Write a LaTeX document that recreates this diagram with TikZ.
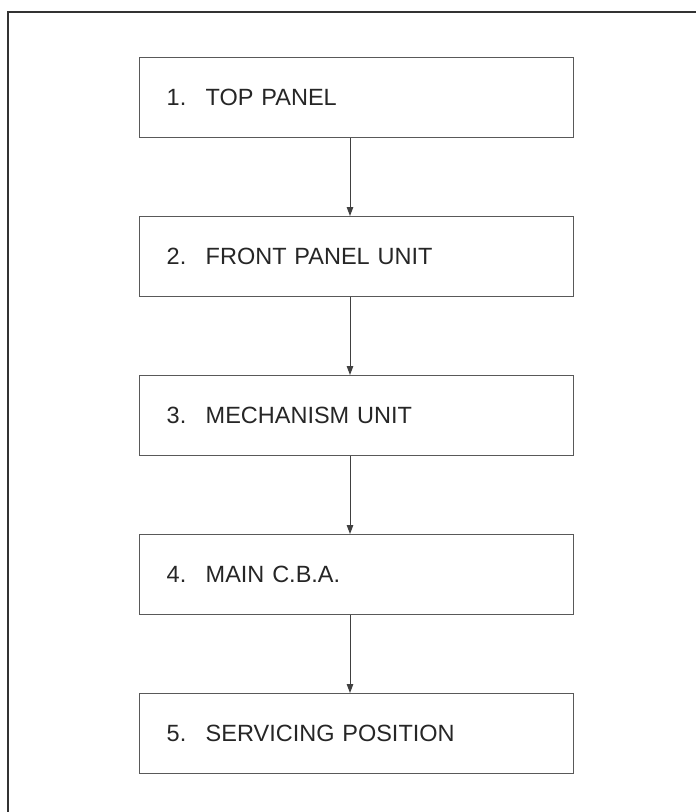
\documentclass[tikz,border=0pt]{standalone}
\usepackage{fontspec}
\setmainfont{Liberation Sans}
\usetikzlibrary{arrows.meta}
\begin{document}
\begin{tikzpicture}[x=1pt,y=-1pt,
  stepbox/.style={draw=black!65, line width=1.4pt, minimum width=434pt, minimum height=80pt,
    anchor=north west, inner sep=0pt, text width=380pt, align=left,
    font=\fontsize{23.5}{28}\selectfont, text=black!85},
  conn/.style={draw=black!75, line width=1pt, -{Triangle[width=6.5pt,length=9pt]}}]
\useasboundingbox (0,0) rectangle (696,812);
\fill[white] (0,0) rectangle (696,812);
\draw[black!80, line width=2pt] (8,814) -- (8,12) -- (698,12);
\node[stepbox] (b1) at (139,57) {\makebox[39pt][l]{1.}TOP PANEL};
\node[stepbox] (b2) at (139,216) {\makebox[39pt][l]{2.}FRONT PANEL UNIT};
\node[stepbox] (b3) at (139,375) {\makebox[39pt][l]{3.}MECHANISM UNIT};
\node[stepbox] (b4) at (139,534) {\makebox[39pt][l]{4.}MAIN C.B.A.};
\node[stepbox] (b5) at (139,693) {\makebox[39pt][l]{5.}SERVICING POSITION};
\foreach \a/\b in {b1/b2,b2/b3,b3/b4,b4/b5}{
  \draw[conn] (\a.south west) ++(211,0) coordinate (s) -- (s |- \b.north);
}
\end{tikzpicture}
\end{document}
